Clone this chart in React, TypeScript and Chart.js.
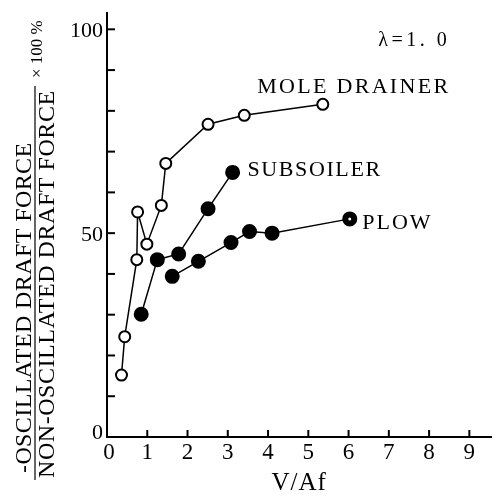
import React, { useEffect, useRef } from 'react';
import { Chart, registerables } from 'chart.js';

Chart.register(...registerables);

// ---- data ----
const moleX = [0.36, 0.44, 0.74, 0.76, 0.99, 1.35, 1.46, 2.51, 3.41, 5.36];
const moleY = [15.2, 24.6, 43.5, 55.2, 47.3, 56.8, 67.1, 76.7, 78.9, 81.6];

const subX = [0.85, 1.25, 1.78, 2.51, 3.12];
const subY = [30.1, 43.5, 44.9, 56.0, 64.9];

const plowX = [1.62, 2.27, 3.08, 3.54, 4.10, 6.03];
const plowY = [39.4, 43.1, 47.7, 50.4, 50.0, 53.5];

const xTickValues = [0, 1, 2, 3, 4, 5, 6, 7, 8, 9];
const yTickMarks = [10, 20, 30, 40, 50, 60, 70, 80, 90, 100];
const yTickLabels = [0, 50, 100];

const seriesLabels = ['MOLE DRAINER', 'SUBSOILER', 'PLOW'];
const labelAnchorX = [3.73, 3.49, 6.34];
const labelAnchorY = [84.5, 63.9, 50.9];
const lambdaText = 'λ=1. 0';
const lambdaAnchor = [6.74, 95.8];

const xTitle = 'V/Af';
const yTitleTop = '-OSCILLATED DRAFT FORCE';
const yTitleBottom = 'NON-OSCILLATED DRAFT FORCE';
const yTitleSuffix = '× 100 %';

const FONT = '"Liberation Serif", "DejaVu Serif", serif';

const pts = (xs: number[], ys: number[]) => xs.map((x, i) => ({ x, y: ys[i] }));

const decorPlugin = {
  id: 'decor',
  afterDatasetsDraw(chart: any) {
    // small white centre dot on the last PLOW point, as in the reference
    const meta = chart.getDatasetMeta(2);
    const last = meta.data[meta.data.length - 1];
    if (last) {
      const ctx = chart.ctx;
      ctx.save();
      ctx.fillStyle = '#fff';
      ctx.beginPath();
      ctx.arc(last.x, last.y, 1.5, 0, Math.PI * 2);
      ctx.fill();
      ctx.restore();
    }
  },
  afterDraw(chart: any) {
    const ctx: CanvasRenderingContext2D = chart.ctx;
    const xs = chart.scales.x;
    const ys = chart.scales.y;
    const area = chart.chartArea;
    ctx.save();
    ctx.fillStyle = '#000';
    ctx.strokeStyle = '#000';
    ctx.lineWidth = 2;
    // inward ticks
    yTickMarks.forEach((v) => {
      const py = ys.getPixelForValue(v);
      ctx.beginPath();
      ctx.moveTo(area.left, py);
      ctx.lineTo(area.left + 8, py);
      ctx.stroke();
    });
    xTickValues.forEach((v) => {
      if (v === 0) return;
      const px = xs.getPixelForValue(v);
      ctx.beginPath();
      ctx.moveTo(px, area.bottom);
      ctx.lineTo(px, area.bottom - 7);
      ctx.stroke();
    });
    // y tick labels
    ctx.font = `22px ${FONT}`;
    ctx.textAlign = 'right';
    ctx.textBaseline = 'middle';
    yTickLabels.forEach((v) => {
      const py = ys.getPixelForValue(v);
      ctx.fillText(String(v), area.left - 4, py + (v === 0 ? -4 : 2));
    });
    // x tick labels
    ctx.textAlign = 'center';
    ctx.textBaseline = 'top';
    ctx.font = `23px ${FONT}`;
    xTickValues.forEach((v) => {
      const px = xs.getPixelForValue(v);
      ctx.fillText(String(v), px + (v === 0 ? 2 : 0), area.bottom + 4);
    });
    // x title
    ctx.font = `25px ${FONT}`;
    (ctx as any).letterSpacing = '1px';
    ctx.textBaseline = 'alphabetic';
    ctx.fillText(xTitle, (area.left + area.right) / 2, 490);
    // series labels
    ctx.textAlign = 'left';
    ctx.font = `22px ${FONT}`;
    const spacings = ['2.3px', '1.6px', '2px'];
    seriesLabels.forEach((t, i) => {
      (ctx as any).letterSpacing = spacings[i];
      ctx.fillText(t, xs.getPixelForValue(labelAnchorX[i]), ys.getPixelForValue(labelAnchorY[i]));
    });
    (ctx as any).letterSpacing = '3.5px';
    ctx.font = `20px ${FONT}`;
    ctx.fillText(lambdaText, xs.getPixelForValue(lambdaAnchor[0]), ys.getPixelForValue(lambdaAnchor[1]));
    // y title (rotated)
    ctx.font = `24px ${FONT}`;
    (ctx as any).letterSpacing = '0.4px';
    ctx.save();
    ctx.translate(31, 473);
    ctx.rotate(-Math.PI / 2);
    ctx.fillText(yTitleTop, 0, 0);
    ctx.restore();
    (ctx as any).letterSpacing = '0.55px';
    ctx.save();
    ctx.translate(54, 478);
    ctx.rotate(-Math.PI / 2);
    ctx.fillText(yTitleBottom, 0, 0);
    ctx.restore();
    ctx.lineWidth = 1.2;
    ctx.beginPath();
    ctx.moveTo(35, 480);
    ctx.lineTo(35, 86);
    ctx.stroke();
    ctx.font = `17px ${FONT}`;
    (ctx as any).letterSpacing = '0px';
    ctx.save();
    ctx.translate(42, 78);
    ctx.rotate(-Math.PI / 2);
    ctx.fillText(yTitleSuffix, 0, 0);
    ctx.restore();
    ctx.restore();
  },
};

const whiteBg = {
  id: 'whiteBg',
  beforeDraw(chart: any) {
    const ctx = chart.ctx;
    ctx.save();
    ctx.fillStyle = '#fff';
    ctx.fillRect(0, 0, chart.width, chart.height);
    ctx.restore();
  },
};

export default function App() {
  const ref = useRef<HTMLCanvasElement | null>(null);
  useEffect(() => {
    if (!ref.current) return;
    const common = {
      showLine: true,
      borderColor: '#000',
      borderWidth: 1.5,
      pointBorderColor: '#000',
      pointBorderWidth: 2,
    };
    const chart = new Chart(ref.current, {
      type: 'scatter',
      data: {
        datasets: [
          {
            ...common,
            label: seriesLabels[0],
            data: pts(moleX, moleY),
            pointRadius: 5.5,
            pointBackgroundColor: '#fff',
          },
          {
            ...common,
            label: seriesLabels[1],
            data: pts(subX, subY),
            pointRadius: 6.5,
            pointBackgroundColor: '#000',
          },
          {
            ...common,
            label: seriesLabels[2],
            data: pts(plowX, plowY),
            pointRadius: 6.5,
            pointBackgroundColor: '#000',
          },
        ],
      },
      options: {
        animation: false,
        responsive: false,
        layout: { padding: { left: 107, right: 1, top: 13, bottom: 60 } },
        plugins: { legend: { display: false }, tooltip: { enabled: false } },
        scales: {
          x: {
            type: 'linear',
            min: 0,
            max: 9.55,
            ticks: { display: false },
            grid: { display: false, drawTicks: false },
            border: { display: true, color: '#000', width: 2 },
            afterFit: (s: any) => { s.height = 0; },
          },
          y: {
            type: 'linear',
            min: 0,
            max: 104,
            ticks: { display: false },
            grid: { display: false, drawTicks: false },
            border: { display: true, color: '#000', width: 2 },
            afterFit: (s: any) => { s.width = 0; },
          },
        },
      } as any,
      plugins: [whiteBg, decorPlugin],
    });
    return () => chart.destroy();
  }, []);
  return (
    <div style={{ position: 'absolute', left: 0, top: 0, width: 500, height: 497 }}>
      <canvas ref={ref} width={500} height={497} style={{ display: 'block' }} />
    </div>
  );
}
